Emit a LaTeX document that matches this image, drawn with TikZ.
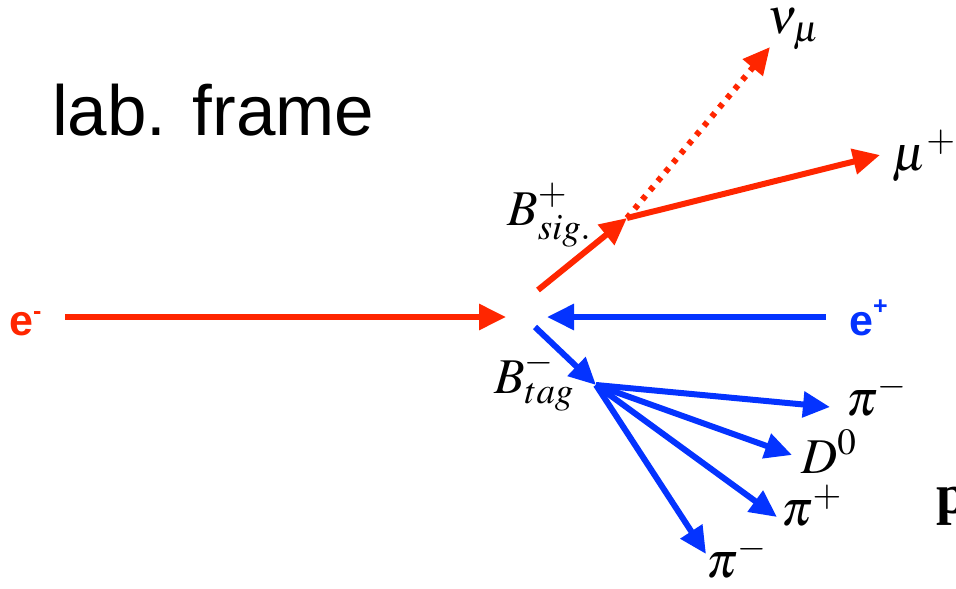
\documentclass[tikz,border=0pt]{standalone}
\usepackage{mathptmx}
\usepackage[no-math]{fontspec}
\setsansfont{Liberation Sans}
\newfontfamily\serifbold{Liberation Serif}
\usetikzlibrary{arrows.meta}
\definecolor{beamred}{HTML}{FF2600}
\definecolor{beamblue}{HTML}{0433FF}

\begin{document}
\begin{tikzpicture}[x=1pt, y=-1pt, >={Triangle[length=27pt, width=25pt]},
	track/.style={line width=6pt, ->},
	lbl/.style={inner sep=0pt, anchor=base west, font=\fontsize{50}{60}\selectfont}]
	\useasboundingbox (0,0) rectangle (956,589);
	\node[inner sep=0pt, anchor=base west, font=\sffamily\fontsize{71}{85}\selectfont] (title) at (52,135) {lab. frame};
	% beams
	\node[lbl, text=beamred, font=\sffamily\bfseries\fontsize{43}{50}\selectfont] (em) at (9,335) {e\raisebox{16pt}{\fontsize{25}{28}\selectfont -}};
	\node[lbl, text=beamblue, font=\sffamily\bfseries\fontsize{43}{50}\selectfont] (ep) at (849,335) {e\raisebox{21pt}{\fontsize{25}{28}\selectfont +}};
	\coordinate (emstart) at (65,317);
	\coordinate (emtip) at (506,317);
	\coordinate (epstart) at (826,317);
	\coordinate (eptip) at (547,317);
	\draw[track, beamred] (emstart) -- (emtip);
	\draw[track, beamblue] (epstart) -- (eptip);
	% signal side
	\coordinate (sigstart) at (538,290);
	\coordinate (sigvtx) at (627,218);
	\coordinate (mutip) at (880,155);
	\coordinate (nutip) at (770,47);
	\draw[track, beamred] (sigstart) -- (sigvtx);
	\draw[track, beamred] (sigvtx) -- (mutip);
	\draw[track, beamred, dash pattern=on 5pt off 7pt] (sigvtx) -- (nutip);
	\node[lbl] (bsig) at (507,225) {$B^{+}_{sig.}$};
	\node[lbl] (mu) at (892,170) {$\mu^{+}$};
	\node[lbl] (nu) at (767,34) {$\nu_{\mu}$};
	% tag side
	\coordinate (tagstart) at (535,327);
	\coordinate (tagvtx) at (596,385);
	\coordinate (pitipa) at (830,407);
	\coordinate (dtip) at (792,455);
	\coordinate (pitipb) at (777,517);
	\coordinate (pitipc) at (706,554);
	\draw[track, beamblue] (tagstart) -- (tagvtx);
	\foreach \tip in {pitipa, dtip, pitipb, pitipc}
		\draw[track, beamblue] (tagvtx) -- (\tip);
	\node[lbl] (btag) at (494,393) {$B^{-}_{tag}$};
	\node[lbl] (pia) at (846,415) {$\pi^{-}$};
	\node[lbl] (dzero) at (801,473) {$D^{0}$};
	\node[lbl] (pib) at (781,525) {$\pi^{+}$};
	\node[lbl] (pic) at (706,577) {$\pi^{-}$};
	\node[lbl, font=\serifbold\bfseries\fontsize{56}{66}\selectfont] (cut) at (936,513) {p};
\end{tikzpicture}
\end{document}
